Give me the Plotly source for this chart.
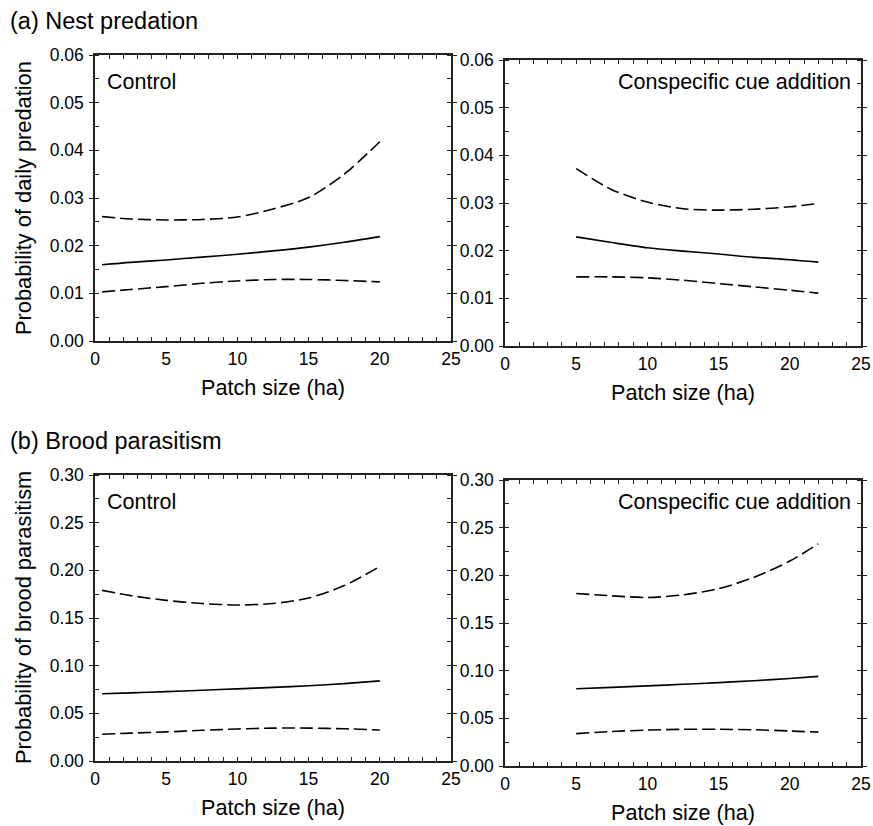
import plotly.graph_objects as go

W, H = 873, 826

# ---------------- data ----------------
x_control = [0.5, 2.5, 5, 7.5, 10, 12.5, 15, 17.5, 20]
x_cue = [5, 7.5, 10, 12.5, 15, 17.5, 20, 22]

nest_control_mean = [0.0160, 0.0165, 0.0170, 0.0176, 0.0182, 0.0189, 0.0197, 0.0207, 0.0219]
nest_control_upper = [0.0261, 0.0256, 0.0254, 0.0255, 0.0260, 0.0277, 0.0301, 0.0350, 0.0418]
nest_control_lower = [0.0103, 0.0108, 0.0114, 0.0121, 0.0126, 0.0129, 0.0129, 0.0127, 0.0124]

nest_cue_mean = [0.0229, 0.0217, 0.0206, 0.0199, 0.0193, 0.0186, 0.0181, 0.0176]
nest_cue_upper = [0.0372, 0.0328, 0.0302, 0.0288, 0.0285, 0.0287, 0.0292, 0.0299]
nest_cue_lower = [0.0145, 0.0145, 0.0143, 0.0138, 0.0131, 0.0124, 0.0117, 0.0111]

brood_control_mean = [0.0705, 0.0715, 0.0728, 0.0742, 0.0757, 0.0772, 0.0790, 0.0812, 0.0840]
brood_control_upper = [0.1790, 0.1735, 0.1685, 0.1652, 0.1637, 0.1652, 0.1710, 0.1840, 0.2040]
brood_control_lower = [0.0280, 0.0292, 0.0305, 0.0322, 0.0336, 0.0345, 0.0345, 0.0338, 0.0325]

brood_cue_mean = [0.0810, 0.0825, 0.0840, 0.0857, 0.0875, 0.0895, 0.0918, 0.0940]
brood_cue_upper = [0.1810, 0.1785, 0.1768, 0.1795, 0.1860, 0.1980, 0.2150, 0.2330]
brood_cue_lower = [0.0340, 0.0362, 0.0377, 0.0385, 0.0385, 0.0380, 0.0367, 0.0355]

x_ticks = [0, 5, 10, 15, 20, 25]
nest_ticks = [0.00, 0.01, 0.02, 0.03, 0.04, 0.05, 0.06]
brood_ticks = [0.00, 0.05, 0.10, 0.15, 0.20, 0.25, 0.30]

panel_titles = ["(a) Nest predation", "(b) Brood parasitism"]
treatments = ["Control", "Conspecific cue addition"]
x_title = "Patch size (ha)"
y_titles = ["Probability of daily predation", "Probability of brood parasitism"]

# ---------------- layout helpers ----------------
FONT = "Arial, Liberation Sans, Helvetica, sans-serif"
AX = "#222222"

def px_x(p):
    return p / W

def px_y(p):
    return 1 - p / H

# panel pixel boxes: (left, right, top, bottom)
boxes = [
    (95, 451, 55, 341),
    (505, 861, 60, 346),
    (95, 451, 475, 761),
    (505, 861, 480, 766),
]

fig = go.Figure()

panels = [
    (x_control, nest_control_mean, nest_control_upper, nest_control_lower),
    (x_cue, nest_cue_mean, nest_cue_upper, nest_cue_lower),
    (x_control, brood_control_mean, brood_control_upper, brood_control_lower),
    (x_cue, brood_cue_mean, brood_cue_upper, brood_cue_lower),
]

for i, (xs, m, u, l) in enumerate(panels):
    xa = "x" if i == 0 else f"x{i+1}"
    ya = "y" if i == 0 else f"y{i+1}"
    for ys, dash in [(u, "13px,5px"), (m, "solid"), (l, "13px,5px")]:
        fig.add_trace(go.Scatter(
            x=xs, y=ys, mode="lines", xaxis=xa, yaxis=ya,
            line=dict(color="black", width=1.6, dash=dash, shape="spline", smoothing=0.8),
            showlegend=False, hoverinfo="skip"))

layout = dict(
    width=W, height=H,
    margin=dict(l=0, r=0, t=0, b=0, pad=0, autoexpand=False),
    paper_bgcolor="white", plot_bgcolor="white",
    font=dict(family=FONT, color="black", size=17.5),
    showlegend=False,
)

for i, (L, R, T, B) in enumerate(boxes):
    xk = "xaxis" if i == 0 else f"xaxis{i+1}"
    yk = "yaxis" if i == 0 else f"yaxis{i+1}"
    ya_name = "y" if i == 0 else f"y{i+1}"
    xa_name = "x" if i == 0 else f"x{i+1}"
    yt = nest_ticks if i < 2 else brood_ticks
    step = yt[1] - yt[0]
    layout[xk] = dict(
        domain=[px_x(L), px_x(R)], anchor=ya_name, automargin=False,
        range=[0, 25], tickmode="array", tickvals=x_ticks,
        ticktext=[str(v) for v in x_ticks],
        showgrid=False, zeroline=False,
        showline=True, linecolor=AX, linewidth=1.5, mirror="ticks",
        ticks="inside", ticklen=4, tickwidth=1.2, tickcolor=AX,
        minor=dict(ticks="inside", dtick=1, tick0=0, ticklen=4, tickwidth=1.2, tickcolor=AX, showgrid=False),
        tickfont=dict(size=17.5, family=FONT, color="black"),
        ticklabelstandoff=1,
    )
    layout[yk] = dict(
        domain=[px_y(B), px_y(T)], anchor=xa_name, automargin=False,
        range=[yt[0], yt[-1]], tickmode="array", tickvals=yt,
        ticktext=[f"{v:.2f}" for v in yt],
        showgrid=False, zeroline=False,
        showline=True, linecolor=AX, linewidth=1.5, mirror="ticks",
        ticks="outside", ticklen=4, tickwidth=1.2, tickcolor=AX,
        minor=dict(ticks="inside", dtick=step / 2, tick0=0, ticklen=4, tickwidth=1.2, tickcolor=AX, showgrid=False),
        tickfont=dict(size=17.5, family=FONT, color="black"),
        ticklabelstandoff=2,
    )

fig.update_layout(**layout)

ann = []
# panel titles
ann.append(dict(text=panel_titles[0], x=px_x(8), y=px_y(21), xanchor="left", yanchor="middle"))
ann.append(dict(text=panel_titles[1], x=px_x(8), y=px_y(441), xanchor="left", yanchor="middle"))
# treatment labels
for i, (L, R, T, B) in enumerate(boxes):
    if i % 2 == 0:
        ann.append(dict(text=treatments[0], x=px_x(L + 10), y=px_y(T + 27.5),
                        xanchor="left", yanchor="middle", font=dict(size=21.5, family=FONT, color="black")))
    else:
        ann.append(dict(text=treatments[1], x=px_x(R - 8), y=px_y(T + 22.5),
                        xanchor="right", yanchor="middle", font=dict(size=21.5, family=FONT, color="black")))
    # x titles
    ann.append(dict(text=x_title, x=px_x((L + R) / 2), y=px_y(B + 46),
                    xanchor="center", yanchor="middle", font=dict(size=21.6, family=FONT, color="black")))
# y titles
ann.append(dict(text=y_titles[0], x=px_x(23), y=px_y((55 + 341) / 2), textangle=-90,
                xanchor="center", yanchor="middle", font=dict(size=21.8, family=FONT, color="black")))
ann.append(dict(text=y_titles[1], x=px_x(23), y=px_y((475 + 761) / 2), textangle=-90,
                xanchor="center", yanchor="middle", font=dict(size=21.8, family=FONT, color="black")))

for a in ann:
    a.setdefault("font", dict(size=23.5, family=FONT, color="black"))
    a.update(xref="paper", yref="paper", showarrow=False)

fig.update_layout(annotations=ann)

fig.write_html(
    "out.html",
    config={"displayModeBar": False},
    post_script="document.body.style.margin='0';document.body.style.overflow='hidden';",
)
